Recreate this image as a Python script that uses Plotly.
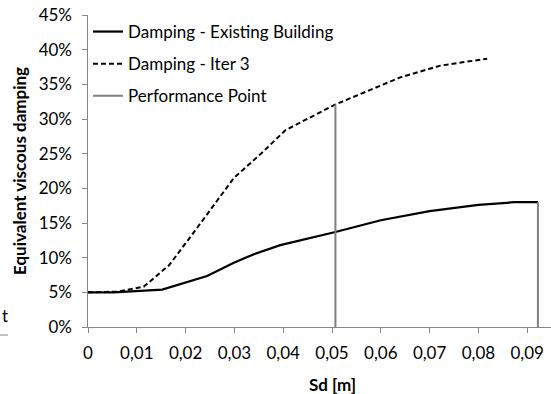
import plotly.graph_objects as go

# Data
sd_existing = [0.0, 0.0053, 0.0152, 0.0196, 0.0244, 0.0300, 0.0340, 0.0394, 0.0450, 0.0507, 0.0600, 0.0700, 0.0800, 0.0873, 0.0922]
damp_existing = [0.050, 0.050, 0.054, 0.063, 0.0735, 0.093, 0.105, 0.118, 0.127, 0.137, 0.154, 0.167, 0.176, 0.180, 0.180]

sd_iter3 = [0.0, 0.0060, 0.0114, 0.0166, 0.0210, 0.0258, 0.0299, 0.0353, 0.0405, 0.0507, 0.0640, 0.0722, 0.0818]
damp_iter3 = [0.050, 0.051, 0.058, 0.089, 0.130, 0.176, 0.215, 0.249, 0.284, 0.321, 0.360, 0.377, 0.387]

perf_sd = [0.0507, 0.0507, None, 0.0922, 0.0922]
perf_damp = [0.0, 0.321, None, 0.0, 0.180]

x_tickvals = [0, 0.01, 0.02, 0.03, 0.04, 0.05, 0.06, 0.07, 0.08, 0.09]
x_ticktext = ["0", "0,01", "0,02", "0,03", "0,04", "0,05", "0,06", "0,07", "0,08", "0,09"]
y_tickvals = [0, 0.05, 0.10, 0.15, 0.20, 0.25, 0.30, 0.35, 0.40, 0.45]
y_ticktext = ["0%", "5%", "10%", "15%", "20%", "25%", "30%", "35%", "40%", "45%"]

x_title = "Sd [m]"
y_title = "Equivalent viscous damping"

FONT = "Lato"
W, H = 551, 394
ML, MR, MT, MB = 72, 0, 15, 67      # page margins
AX_LEFT = 88                         # pixel x of the y axis line
PW = W - ML - MR
PH = H - MT - MB
PLOT_W = W - AX_LEFT - MR
Y_RANGE = [0, 0.45]

fig = go.Figure()
fig.add_trace(go.Scatter(x=sd_existing, y=damp_existing, mode="lines",
                         name="Damping - Existing Building", legendgroup="a",
                         line=dict(color="black", width=2.25)))
fig.add_trace(go.Scatter(x=sd_iter3, y=damp_iter3, mode="lines",
                         name="Damping - Iter 3", legendgroup="b",
                         line=dict(color="black", width=2, dash="5px,3px")))
fig.add_trace(go.Scatter(x=perf_sd, y=perf_damp, mode="lines", yaxis="y2",
                         name="Performance Point", legendgroup="c",
                         line=dict(color="#7f7f7f", width=2)))

def px2paper_x(px):
    return (px - ML) / PW

def px2paper_y(py):
    return (H - MB - py) / PH

axis_common = dict(showgrid=False, zeroline=False, automargin=False,
                   tickfont=dict(size=17, family=FONT, color="black"))

fig.update_layout(
    width=W, height=H,
    margin=dict(l=ML, r=MR, t=MT, b=MB, pad=0, autoexpand=False),
    paper_bgcolor="white", plot_bgcolor="white",
    font=dict(family=FONT, size=17, color="black"),
    showlegend=True,
    legend=dict(x=px2paper_x(88), y=px2paper_y(14), xanchor="left", yanchor="top",
                bgcolor="rgba(0,0,0,0)", font=dict(size=17, family=FONT),
                tracegroupgap=7, traceorder="grouped", itemwidth=30),
    xaxis=dict(range=[0, PLOT_W / 4880], domain=[px2paper_x(AX_LEFT), 1],
               tickvals=x_tickvals, ticktext=x_ticktext, ticklabelstandoff=6,
               showline=True, linecolor="#868686", linewidth=1,
               ticks="outside", ticklen=5, tickcolor="#868686", **axis_common),
    yaxis=dict(range=Y_RANGE, tickvals=y_tickvals, showticklabels=False,
               showline=True, linecolor="#868686", linewidth=1,
               ticks="outside", ticklen=5, tickcolor="#868686", **axis_common),
    yaxis2=dict(range=Y_RANGE, tickvals=y_tickvals, ticktext=y_ticktext,
                overlaying="y", anchor="free", position=0, side="left",
                showline=False, ticks="", **axis_common),
    annotations=[
        dict(text="t", x=px2paper_x(0), y=px2paper_y(315), xref="paper", yref="paper",
             xanchor="left", yanchor="middle", showarrow=False,
             font=dict(size=17, family=FONT, color="black")),
        dict(text="<b>" + x_title + "</b>", x=px2paper_x(332), y=px2paper_y(384),
             xref="paper", yref="paper", xanchor="center", yanchor="middle",
             showarrow=False, font=dict(size=17, family=FONT, color="black")),
        dict(text="<b>" + y_title + "</b>", x=px2paper_x(19), y=px2paper_y(171),
             xref="paper", yref="paper", xanchor="center", yanchor="middle",
             textangle=-90, showarrow=False, font=dict(size=17, family=FONT, color="black")),
    ],
    shapes=[dict(type="line", xref="paper", yref="paper",
                 x0=px2paper_x(0), x1=px2paper_x(8), y0=px2paper_y(335), y1=px2paper_y(335),
                 line=dict(color="#868686", width=1))],
)

fig.write_html("out.html", config={"displayModeBar": False},
               post_script="document.body.style.margin='0px';")
